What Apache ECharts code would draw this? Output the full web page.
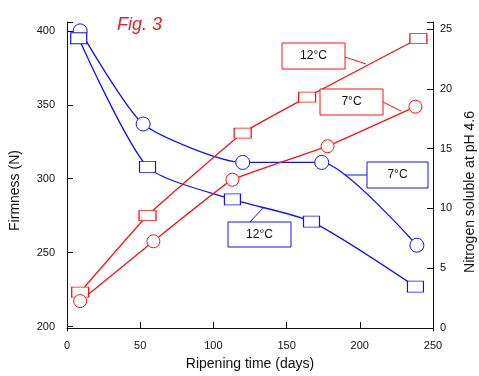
<!DOCTYPE html>
<html>
<head>
<meta charset="utf-8">
<script src="https://cdn.jsdelivr.net/npm/echarts@6/dist/echarts.min.js"></script>
<style>
html,body{margin:0;padding:0;background:#fff;}
#chart{width:479px;height:376px;}
</style>
</head>
<body>
<div id="chart"></div>
<script>
// ---- data ----
const xTicks = [0, 50, 100, 150, 200, 250];
const firmTicks = [200, 250, 300, 350, 400];
const nitTicks = [0, 5, 10, 15, 20, 25];

const days7F = [9, 52, 120, 174, 239];
const firm7 = [400, 337, 311, 311, 255];
const days12F = [8, 55, 113, 167, 238];
const firm12 = [395, 308, 286, 271, 227];

const days12N = [9, 55, 120, 164, 240];
const nit12 = [3.0, 9.4, 16.3, 19.3, 24.2];
const days7N = [9, 59, 113, 178, 238];
const nit7 = [2.25, 7.25, 12.4, 15.2, 18.5];

const labelsText = { t12: '12°C', t7: '7°C' };
const rightAxisName = 'Nitrogen soluble at pH 4.6';

const BLUE = '#1010ff';
const RED = '#ff1010';
const FONT = 'Liberation Sans';

function pairs(xs, ys) { return xs.map((x, i) => [x, ys[i]]); }

const chart = echarts.init(document.getElementById('chart'), null, { renderer: 'canvas' });

function box(x, y, w, h, color, text, lx1, ly1, lx2, ly2) {
  return [
    { type: 'line', shape: { x1: lx1, y1: ly1, x2: lx2, y2: ly2 }, style: { stroke: color, lineWidth: 1 }, z: 50 },
    { type: 'rect', shape: { x: x, y: y, width: w, height: h }, style: { fill: '#fff', stroke: color, lineWidth: 1 }, z: 51 },
    { type: 'text', x: x + w / 2, y: y + h / 2, style: { text: text, fill: '#111', font: '12px ' + FONT, align: 'center', verticalAlign: 'middle' }, z: 52 }
  ];
}

const option = {
  animation: false,
  backgroundColor: '#fff',
  textStyle: { fontFamily: FONT },
  title: {
    text: 'Fig. 3', left: 112, top: 11,
    textStyle: { color: '#e32028', fontStyle: 'italic', fontWeight: 'normal', fontSize: 18, fontFamily: FONT }
  },
  grid: { left: 67, right: 46, top: 22, bottom: 44 },
  xAxis: {
    type: 'value', min: 0, max: 250, interval: 50,
    name: 'Ripening time (days)', nameLocation: 'middle', nameGap: 26,
    nameTextStyle: { color: '#111', fontSize: 14, fontFamily: FONT },
    axisLine: { lineStyle: { color: '#111', width: 1 } },
    axisTick: { inside: true, length: 6, lineStyle: { color: '#111' } },
    axisLabel: { color: '#111', fontSize: 11, margin: 9, customValues: xTicks },
    splitLine: { show: false }
  },
  yAxis: [
    {
      type: 'value', min: 197, max: 406, position: 'left',
      name: 'Firmness (N)', nameLocation: 'middle', nameRotate: 90, nameGap: 45,
      nameTextStyle: { color: '#111', fontSize: 14, fontFamily: FONT, padding: [0, 28, 0, 0] },
      axisLine: { show: true, lineStyle: { color: '#111', width: 1 } },
      axisTick: { show: true, inside: true, length: 6, customValues: firmTicks.concat([406]), lineStyle: { color: '#111' } },
      axisLabel: { color: '#111', fontSize: 11, margin: 12, customValues: firmTicks },
      splitLine: { show: false }
    },
    {
      type: 'value', min: -0.25, max: 25.58, position: 'right',
      axisLine: { show: true, lineStyle: { color: '#111', width: 1 } },
      axisTick: { show: true, inside: true, length: 6, customValues: nitTicks.concat([25.58]), lineStyle: { color: '#111' } },
      axisLabel: { color: '#111', fontSize: 11, margin: 7, customValues: nitTicks },
      splitLine: { show: false }
    }
  ],
  series: [
    {
      name: 'Firmness 7°C', type: 'line', yAxisIndex: 0, data: pairs(days7F, firm7),
      smooth: 0.2, symbol: 'circle', symbolSize: 14,
      lineStyle: { color: BLUE, width: 1.3 },
      itemStyle: { color: '#fff', borderColor: BLUE, borderWidth: 1 },
      emphasis: { disabled: true }
    },
    {
      name: 'Firmness 12°C', type: 'line', yAxisIndex: 0, data: pairs(days12F, firm12),
      smooth: 0.22, symbol: 'rect', symbolSize: [16, 11],
      lineStyle: { color: BLUE, width: 1.3 },
      itemStyle: { color: '#fff', borderColor: BLUE, borderWidth: 1 },
      emphasis: { disabled: true }
    },
    {
      name: 'Nitrogen 12°C', type: 'line', yAxisIndex: 1, data: pairs(days12N, nit12),
      smooth: 0.1, symbol: 'rect', symbolSize: [17, 10],
      lineStyle: { color: RED, width: 1.3 },
      itemStyle: { color: '#fff', borderColor: RED, borderWidth: 1 },
      emphasis: { disabled: true }
    },
    {
      name: 'Nitrogen 7°C', type: 'line', yAxisIndex: 1, data: pairs(days7N, nit7),
      smooth: 0.1, symbol: 'circle', symbolSize: 13,
      lineStyle: { color: RED, width: 1.3 },
      itemStyle: { color: '#fff', borderColor: RED, borderWidth: 1 },
      emphasis: { disabled: true }
    }
  ],
  graphic: [].concat(
    box(282, 43, 63, 26, RED, labelsText.t12, 345, 57, 366, 64),
    box(320, 89, 63, 26, RED, labelsText.t7, 383, 102, 401, 111),
    box(367, 162, 61, 26, BLUE, labelsText.t7, 345, 175, 367, 175),
    box(228, 222, 63, 25, BLUE, labelsText.t12, 250, 222, 263, 208),
    [{
      type: 'text', x: 470, y: 192, rotation: Math.PI / 2,
      style: { text: rightAxisName, fill: '#111', font: '14px ' + FONT, align: 'center', verticalAlign: 'middle' }
    }]
  )
};
chart.setOption(option);
</script>
</body>
</html>
